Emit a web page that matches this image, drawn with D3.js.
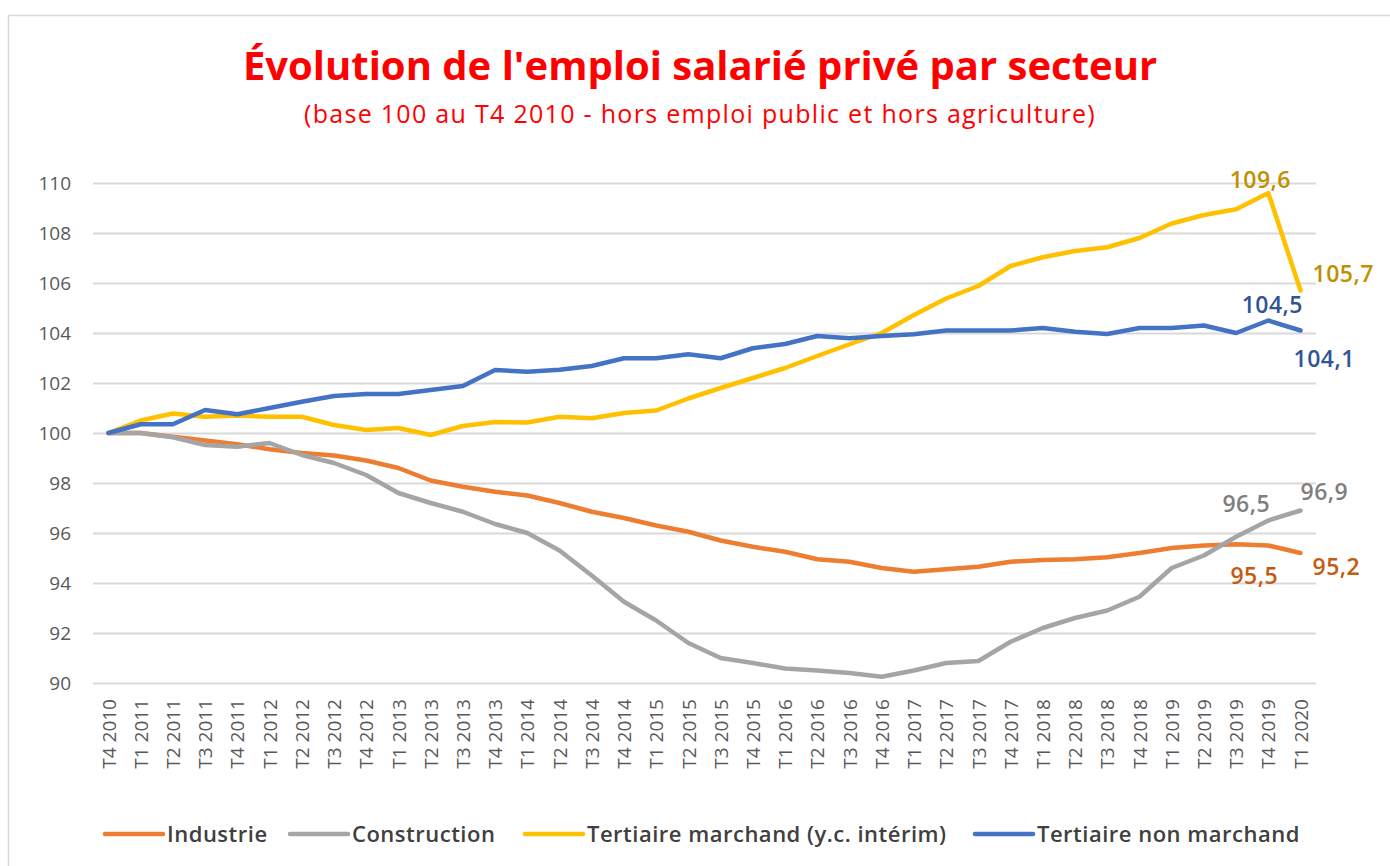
<!DOCTYPE html>
<html>
<head>
<meta charset="utf-8">
<script src="https://cdn.jsdelivr.net/npm/d3@7/dist/d3.min.js"></script>
<style>
  body { margin: 0; background: #fff; }
  svg { display: block; font-family: 'Open Sans', sans-serif; }
</style>
</head>
<body>
<svg id="chart" width="1390" height="866"></svg>
<script>
// quarters on the category axis
var quarters = [
  'T4 2010', 'T1 2011', 'T2 2011', 'T3 2011', 'T4 2011',
  'T1 2012', 'T2 2012', 'T3 2012', 'T4 2012',
  'T1 2013', 'T2 2013', 'T3 2013', 'T4 2013',
  'T1 2014', 'T2 2014', 'T3 2014', 'T4 2014',
  'T1 2015', 'T2 2015', 'T3 2015', 'T4 2015',
  'T1 2016', 'T2 2016', 'T3 2016', 'T4 2016',
  'T1 2017', 'T2 2017', 'T3 2017', 'T4 2017',
  'T1 2018', 'T2 2018', 'T3 2018', 'T4 2018',
  'T1 2019', 'T2 2019', 'T3 2019', 'T4 2019',
  'T1 2020'
];

var industrie = [
  100, 100.0, 99.85, 99.7, 99.55,
  99.35, 99.2, 99.1, 98.9,
  98.6, 98.1, 97.85, 97.65,
  97.5, 97.2, 96.85, 96.6,
  96.3, 96.05, 95.7, 95.45,
  95.25, 94.95, 94.85, 94.6,
  94.45, 94.55, 94.65, 94.85,
  94.92, 94.95, 95.03, 95.2,
  95.4, 95.5, 95.55, 95.5,
  95.2
];

var construction = [
  100, 100.0, 99.83, 99.52, 99.45,
  99.6, 99.12, 98.8, 98.32,
  97.6, 97.2, 96.85, 96.36,
  96.0, 95.3, 94.3, 93.25,
  92.5, 91.6, 91.0, 90.8,
  90.58, 90.5, 90.4, 90.25,
  90.5, 90.8, 90.88, 91.65,
  92.2, 92.6, 92.9, 93.45,
  94.6, 95.1, 95.85, 96.5,
  96.9
];

var tertiaireMarchand = [
  100, 100.5, 100.78, 100.65, 100.7,
  100.65, 100.65, 100.32, 100.12,
  100.2, 99.92, 100.28, 100.44,
  100.42, 100.65, 100.59, 100.8,
  100.9, 101.38, 101.8, 102.2,
  102.6, 103.08, 103.55, 104.0,
  104.72, 105.38, 105.88, 106.68,
  107.03, 107.28, 107.43, 107.8,
  108.38, 108.72, 108.95, 109.6,
  105.7
];

var tertiaireNonMarchand = [
  100, 100.35, 100.35, 100.92, 100.75,
  101.0, 101.25, 101.48, 101.56,
  101.56, 101.72, 101.88, 102.52,
  102.45, 102.53, 102.68, 102.99,
  102.99, 103.15, 102.99, 103.39,
  103.56, 103.88, 103.79, 103.88,
  103.95, 104.1, 104.1, 104.1,
  104.2, 104.05, 103.96, 104.2,
  104.2, 104.3, 104.0, 104.5,
  104.1
];

var seriesNames = ['Industrie', 'Construction', 'Tertiaire marchand (y.c. intérim)', 'Tertiaire non marchand'];
var seriesValues = [industrie, construction, tertiaireMarchand, tertiaireNonMarchand];
var seriesColors = ['#ED7D31', '#A5A5A5', '#FFC000', '#4472C4'];
var labelColors = ['#C55A11', '#7F7F7F', '#BF9000', '#2F5597'];

var yTicks = [90, 92, 94, 96, 98, 100, 102, 104, 106, 108, 110];

// data labels: [series, point index]
var dataLabels = [[2, 36], [2, 37], [3, 36], [3, 37], [1, 36], [1, 37], [0, 36], [0, 37]];
// where each label sits relative to its point: dx, dy, anchor
var labelOffsets = [
  [-8, -5, 'middle'], [12, -9, 'start'],
  [4, -8, 'middle'], [-7, 36, 'start'],
  [-22, -9, 'middle'], [0, -11, 'start'],
  [-14, 38, 'middle'], [12, 22, 'start']
];

var legendX = [105, 290, 525, 975];

var svg = d3.select('#chart');

// chart frame
svg.append('rect')
  .attr('x', 8.5).attr('y', 15.5)
  .attr('width', 1420).attr('height', 900)
  .attr('fill', '#fff')
  .attr('stroke', '#d9d9d9')
  .attr('stroke-width', 1.5);

var x = d3.scalePoint()
  .domain(quarters)
  .range([93, 1316])
  .padding(0.48);

var y = d3.scaleLinear()
  .domain([90, 110])
  .range([683, 183]);

// titles
svg.append('text')
  .attr('x', 700).attr('y', 80)
  .attr('text-anchor', 'middle')
  .attr('fill', '#FF0000')
  .attr('font-size', 40)
  .attr('font-weight', 700)
  .text("Évolution de l'emploi salarié privé par secteur");

svg.append('text')
  .attr('x', 700).attr('y', 123)
  .attr('text-anchor', 'middle')
  .attr('fill', '#FF0000')
  .attr('font-size', 25)
  .attr('letter-spacing', 1.3)
  .text('(base 100 au T4 2010 - hors emploi public et hors agriculture)');

// horizontal gridlines + y labels
var yAxis = d3.axisLeft(y)
  .tickValues(yTicks)
  .tickSize(-(1316 - 93))
  .tickPadding(22)
  .tickFormat(d3.format('d'));

var gy = svg.append('g')
  .attr('transform', 'translate(93,0)')
  .call(yAxis);
gy.select('.domain').remove();
gy.selectAll('.tick line')
  .attr('stroke', '#d9d9d9')
  .attr('stroke-width', 2);
gy.selectAll('.tick text')
  .attr('fill', '#595959')
  .attr('font-size', 19)
  .attr('font-family', "'Open Sans', sans-serif");

// category labels, rotated
var xAxis = d3.axisBottom(x).tickSize(0).tickPadding(0);
var gx = svg.append('g')
  .attr('transform', 'translate(0,683)')
  .call(xAxis);
gx.select('.domain').remove();
gx.selectAll('.tick text')
  .attr('fill', '#595959')
  .attr('font-size', 19)
  .attr('font-family', "'Open Sans', sans-serif")
  .attr('text-anchor', 'end')
  .attr('transform', 'translate(0,16) rotate(-90)')
  .attr('x', 0)
  .attr('y', 0)
  .attr('dy', '0.35em');

// lines
var line = d3.line()
  .x(function (d, i) { return x(quarters[i]); })
  .y(function (d) { return y(d); });

svg.append('g')
  .selectAll('path')
  .data(seriesValues)
  .enter()
  .append('path')
  .attr('d', line)
  .attr('fill', 'none')
  .attr('stroke', function (d, i) { return seriesColors[i]; })
  .attr('stroke-width', 4.5)
  .attr('stroke-linejoin', 'round')
  .attr('stroke-linecap', 'round');

// data labels
svg.append('g')
  .selectAll('text')
  .data(dataLabels)
  .enter()
  .append('text')
  .attr('x', function (d, i) { return x(quarters[d[1]]) + labelOffsets[i][0]; })
  .attr('y', function (d, i) { return y(seriesValues[d[0]][d[1]]) + labelOffsets[i][1]; })
  .attr('text-anchor', function (d, i) { return labelOffsets[i][2]; })
  .attr('fill', function (d) { return labelColors[d[0]]; })
  .attr('font-size', 23)
  .attr('font-weight', 600)
  .attr('letter-spacing', 0.5)
  .text(function (d) { return d3.format('.1f')(seriesValues[d[0]][d[1]]).replace('.', ','); });

// legend
var legend = svg.append('g')
  .selectAll('g')
  .data(seriesNames)
  .enter()
  .append('g')
  .attr('transform', function (d, i) { return 'translate(' + legendX[i] + ',834)'; });

legend.append('line')
  .attr('x1', 0).attr('x2', 58)
  .attr('y1', 0).attr('y2', 0)
  .attr('stroke', function (d, i) { return seriesColors[i]; })
  .attr('stroke-width', 4.5)
  .attr('stroke-linecap', 'round');

legend.append('text')
  .attr('x', 62)
  .attr('dy', '0.35em')
  .attr('fill', '#404040')
  .attr('font-size', 22)
  .attr('font-weight', 600)
  .attr('letter-spacing', 0.5)
  .text(function (d) { return d; });
</script>
</body>
</html>
